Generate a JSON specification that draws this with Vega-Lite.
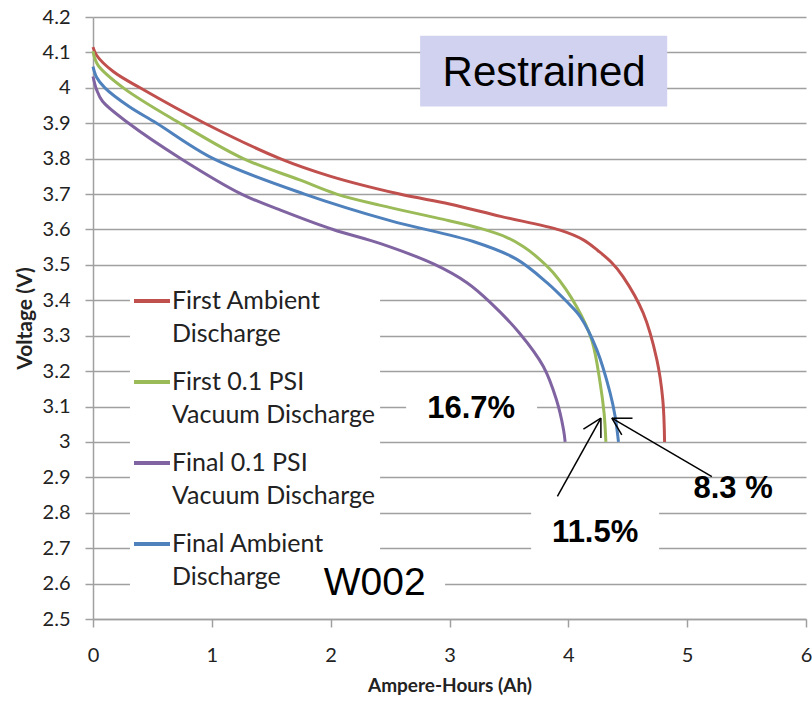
{
  "$schema": "https://vega.github.io/schema/vega-lite/v6.json",
  "width": 713,
  "height": 602,
  "autosize": {"type": "none"},
  "padding": {"left": 93, "top": 17, "right": 6, "bottom": 86},
  "background": "white",
  "config": {
    "view": {"stroke": null},
    "style": {"guide-label": {"lineHeight": 33}}
  },
  "datasets": {
    "curves": [
      {"series": "First Ambient Discharge", "x": 0, "y": 4.115},
      {"series": "First Ambient Discharge", "x": 0.03, "y": 4.092},
      {"series": "First Ambient Discharge", "x": 0.17, "y": 4.046},
      {"series": "First Ambient Discharge", "x": 0.396, "y": 4.0},
      {"series": "First Ambient Discharge", "x": 0.94, "y": 3.9},
      {"series": "First Ambient Discharge", "x": 1.574, "y": 3.8},
      {"series": "First Ambient Discharge", "x": 2.0, "y": 3.75},
      {"series": "First Ambient Discharge", "x": 2.58, "y": 3.7},
      {"series": "First Ambient Discharge", "x": 3.0, "y": 3.672},
      {"series": "First Ambient Discharge", "x": 3.43, "y": 3.637},
      {"series": "First Ambient Discharge", "x": 3.93, "y": 3.598},
      {"series": "First Ambient Discharge", "x": 4.13, "y": 3.57},
      {"series": "First Ambient Discharge", "x": 4.25, "y": 3.54},
      {"series": "First Ambient Discharge", "x": 4.36, "y": 3.508},
      {"series": "First Ambient Discharge", "x": 4.46, "y": 3.467},
      {"series": "First Ambient Discharge", "x": 4.63, "y": 3.364},
      {"series": "First Ambient Discharge", "x": 4.745, "y": 3.232},
      {"series": "First Ambient Discharge", "x": 4.795, "y": 3.119},
      {"series": "First Ambient Discharge", "x": 4.81, "y": 3.0},
      {"series": "First 0.1 PSI Vacuum Discharge", "x": 0, "y": 4.103},
      {"series": "First 0.1 PSI Vacuum Discharge", "x": 0.04, "y": 4.065},
      {"series": "First 0.1 PSI Vacuum Discharge", "x": 0.255, "y": 4.0},
      {"series": "First 0.1 PSI Vacuum Discharge", "x": 0.732, "y": 3.9},
      {"series": "First 0.1 PSI Vacuum Discharge", "x": 1.265, "y": 3.8},
      {"series": "First 0.1 PSI Vacuum Discharge", "x": 1.74, "y": 3.74},
      {"series": "First 0.1 PSI Vacuum Discharge", "x": 2.05, "y": 3.7},
      {"series": "First 0.1 PSI Vacuum Discharge", "x": 2.42, "y": 3.668},
      {"series": "First 0.1 PSI Vacuum Discharge", "x": 2.9, "y": 3.632},
      {"series": "First 0.1 PSI Vacuum Discharge", "x": 3.26, "y": 3.603},
      {"series": "First 0.1 PSI Vacuum Discharge", "x": 3.48, "y": 3.578},
      {"series": "First 0.1 PSI Vacuum Discharge", "x": 3.62, "y": 3.552},
      {"series": "First 0.1 PSI Vacuum Discharge", "x": 3.72, "y": 3.527},
      {"series": "First 0.1 PSI Vacuum Discharge", "x": 3.875, "y": 3.477},
      {"series": "First 0.1 PSI Vacuum Discharge", "x": 4.07, "y": 3.382},
      {"series": "First 0.1 PSI Vacuum Discharge", "x": 4.197, "y": 3.288},
      {"series": "First 0.1 PSI Vacuum Discharge", "x": 4.268, "y": 3.166},
      {"series": "First 0.1 PSI Vacuum Discharge", "x": 4.301, "y": 3.081},
      {"series": "First 0.1 PSI Vacuum Discharge", "x": 4.316, "y": 3.0},
      {"series": "Final 0.1 PSI Vacuum Discharge", "x": 0, "y": 4.032},
      {"series": "Final 0.1 PSI Vacuum Discharge", "x": 0.03, "y": 3.995},
      {"series": "Final 0.1 PSI Vacuum Discharge", "x": 0.08, "y": 3.962},
      {"series": "Final 0.1 PSI Vacuum Discharge", "x": 0.3, "y": 3.9},
      {"series": "Final 0.1 PSI Vacuum Discharge", "x": 0.74, "y": 3.8},
      {"series": "Final 0.1 PSI Vacuum Discharge", "x": 1.25, "y": 3.7},
      {"series": "Final 0.1 PSI Vacuum Discharge", "x": 1.6, "y": 3.652},
      {"series": "Final 0.1 PSI Vacuum Discharge", "x": 2.02, "y": 3.6},
      {"series": "Final 0.1 PSI Vacuum Discharge", "x": 2.42, "y": 3.56},
      {"series": "Final 0.1 PSI Vacuum Discharge", "x": 2.87, "y": 3.502},
      {"series": "Final 0.1 PSI Vacuum Discharge", "x": 3.15, "y": 3.449},
      {"series": "Final 0.1 PSI Vacuum Discharge", "x": 3.34, "y": 3.395},
      {"series": "Final 0.1 PSI Vacuum Discharge", "x": 3.59, "y": 3.307},
      {"series": "Final 0.1 PSI Vacuum Discharge", "x": 3.79, "y": 3.213},
      {"series": "Final 0.1 PSI Vacuum Discharge", "x": 3.9, "y": 3.119},
      {"series": "Final 0.1 PSI Vacuum Discharge", "x": 3.96, "y": 3.034},
      {"series": "Final 0.1 PSI Vacuum Discharge", "x": 3.973, "y": 3.0},
      {"series": "Final Ambient Discharge", "x": 0, "y": 4.06},
      {"series": "Final Ambient Discharge", "x": 0.03, "y": 4.03},
      {"series": "Final Ambient Discharge", "x": 0.1, "y": 4.0},
      {"series": "Final Ambient Discharge", "x": 0.3, "y": 3.948},
      {"series": "Final Ambient Discharge", "x": 0.536, "y": 3.9},
      {"series": "Final Ambient Discharge", "x": 1.013, "y": 3.8},
      {"series": "Final Ambient Discharge", "x": 1.78, "y": 3.7},
      {"series": "Final Ambient Discharge", "x": 2.5, "y": 3.625},
      {"series": "Final Ambient Discharge", "x": 3.2, "y": 3.566},
      {"series": "Final Ambient Discharge", "x": 3.56, "y": 3.517},
      {"series": "Final Ambient Discharge", "x": 3.82, "y": 3.45},
      {"series": "Final Ambient Discharge", "x": 3.99, "y": 3.395},
      {"series": "Final Ambient Discharge", "x": 4.1, "y": 3.354},
      {"series": "Final Ambient Discharge", "x": 4.24, "y": 3.26},
      {"series": "Final Ambient Discharge", "x": 4.352, "y": 3.138},
      {"series": "Final Ambient Discharge", "x": 4.394, "y": 3.072},
      {"series": "Final Ambient Discharge", "x": 4.422, "y": 3.0}
    ],
    "whiteboxes": [
      {"x": 0.311, "x2": 2.416, "y": 3.478, "y2": 2.568},
      {"x": 2.635, "x2": 3.737, "y": 3.142, "y2": 3.051},
      {"x": 3.687, "x2": 4.764, "y": 2.822, "y2": 2.653},
      {"x": 1.827, "x2": 2.963, "y": 2.69, "y2": 2.52}
    ],
    "titlebox": [
      {"x": 2.753, "x2": 4.832, "y": 4.147, "y2": 3.947}
    ],
    "arrows": [
      {"x": 3.908, "y": 2.846, "x2": 4.274, "y2": 3.067},
      {"x": 4.274, "y": 3.067, "x2": 4.127, "y2": 3.036},
      {"x": 4.274, "y": 3.067, "x2": 4.274, "y2": 3.011},
      {"x": 5.208, "y": 2.902, "x2": 4.366, "y2": 3.067},
      {"x": 4.366, "y": 3.067, "x2": 4.54, "y2": 3.067},
      {"x": 4.366, "y": 3.067, "x2": 4.45, "y2": 3.02}
    ],
    "pct": [
      {"x": 3.182, "y": 3.093, "label": "16.7%"},
      {"x": 4.226, "y": 2.743, "label": "11.5%"},
      {"x": 5.387, "y": 2.867, "label": "8.3 %"}
    ],
    "title": [{"x": 3.796, "y": 4.043, "label": "Restrained"}],
    "tag": [{"x": 2.37, "y": 2.602, "label": "W002"}]
  },
  "encoding": {
    "x": {
      "field": "x", "type": "quantitative",
      "scale": {"domain": [0, 6], "nice": false, "zero": false},
      "axis": {
        "values": [0, 1, 2, 3, 4, 5, 6],
        "title": "Ampere-Hours (Ah)",
        "grid": false,
        "domainColor": "#a0a0a0", "domainWidth": 1.5,
        "tickColor": "#a0a0a0", "tickWidth": 1.5, "tickSize": 8,
        "labelFont": "Lato", "labelFontSize": 20, "labelColor": "#222222",
        "labelPadding": 18, "labelFlush": false,
        "titleFont": "Lato", "titleFontSize": 19, "titleFontWeight": "bold",
        "titleColor": "#222222", "titlePadding": 11
      }
    },
    "y": {
      "field": "y", "type": "quantitative",
      "scale": {"domain": [2.5, 4.2], "nice": false, "zero": false},
      "axis": {
        "values": [2.5, 2.6, 2.7, 2.8, 2.9, 3.0, 3.1, 3.2, 3.3, 3.4, 3.5, 3.6, 3.7, 3.8, 3.9, 4.0, 4.1, 4.2],
        "format": ".1~f",
        "title": "Voltage (V)",
        "grid": true, "gridColor": "#a0a0a0", "gridWidth": 1.5,
        "domainColor": "#a0a0a0", "domainWidth": 1.5,
        "tickColor": "#a0a0a0", "tickWidth": 1.5, "tickSize": 8,
        "labelFont": "Lato", "labelFontSize": 20, "labelColor": "#222222",
        "labelPadding": 15, "labelOverlap": false,
        "titleFont": "Lato", "titleFontSize": 21, "titleFontWeight": "bold",
        "titleColor": "#222222", "titlePadding": 7
      }
    }
  },
  "layer": [
    {
      "data": {"name": "whiteboxes"},
      "mark": {"type": "rect", "color": "white"},
      "encoding": {"x2": {"field": "x2"}, "y2": {"field": "y2"}}
    },
    {
      "data": {"name": "curves"},
      "mark": {"type": "line", "interpolate": "catmull-rom", "strokeWidth": 3},
      "encoding": {
        "color": {
          "field": "series", "type": "nominal",
          "scale": {
            "domain": ["First Ambient Discharge", "First 0.1 PSI Vacuum Discharge", "Final 0.1 PSI Vacuum Discharge", "Final Ambient Discharge"],
            "range": ["#C0504D", "#9BBB59", "#8064A2", "#4F81BD"]
          },
          "legend": {
            "orient": "none", "legendX": 37, "legendY": 262,
            "title": null,
            "symbolType": "stroke", "symbolSize": 1296, "symbolStrokeWidth": 4,
            "labelFont": "Lato", "labelFontSize": 25,
            "labelColor": "#222222", "labelOffset": 0, "labelLimit": 400,
            "labelBaseline": "middle",
            "rowPadding": 15, "padding": 2,
            "labelExpr": "datum.label == 'First Ambient Discharge' ? ['First Ambient', 'Discharge'] : datum.label == 'First 0.1 PSI Vacuum Discharge' ? ['First 0.1 PSI', 'Vacuum Discharge'] : datum.label == 'Final 0.1 PSI Vacuum Discharge' ? ['Final 0.1 PSI', 'Vacuum Discharge'] : ['Final Ambient', 'Discharge']"
          }
        }
      }
    },
    {
      "data": {"name": "titlebox"},
      "mark": {"type": "rect", "color": "#d1d1f0"},
      "encoding": {"x2": {"field": "x2"}, "y2": {"field": "y2"}}
    },
    {
      "data": {"name": "title"},
      "mark": {"type": "text", "font": "Liberation Sans", "fontSize": 42, "color": "black", "align": "center", "baseline": "middle"},
      "encoding": {"text": {"field": "label"}}
    },
    {
      "data": {"name": "arrows"},
      "mark": {"type": "rule", "color": "black", "strokeWidth": 1.5},
      "encoding": {"x2": {"field": "x2"}, "y2": {"field": "y2"}}
    },
    {
      "data": {"name": "pct"},
      "mark": {"type": "text", "font": "Liberation Sans", "fontSize": 31, "fontWeight": "bold", "color": "black", "align": "center", "baseline": "middle"},
      "encoding": {"text": {"field": "label"}}
    },
    {
      "data": {"name": "tag"},
      "mark": {"type": "text", "font": "Liberation Sans", "fontSize": 39, "color": "black", "align": "center", "baseline": "middle"},
      "encoding": {"text": {"field": "label"}}
    }
  ]
}
